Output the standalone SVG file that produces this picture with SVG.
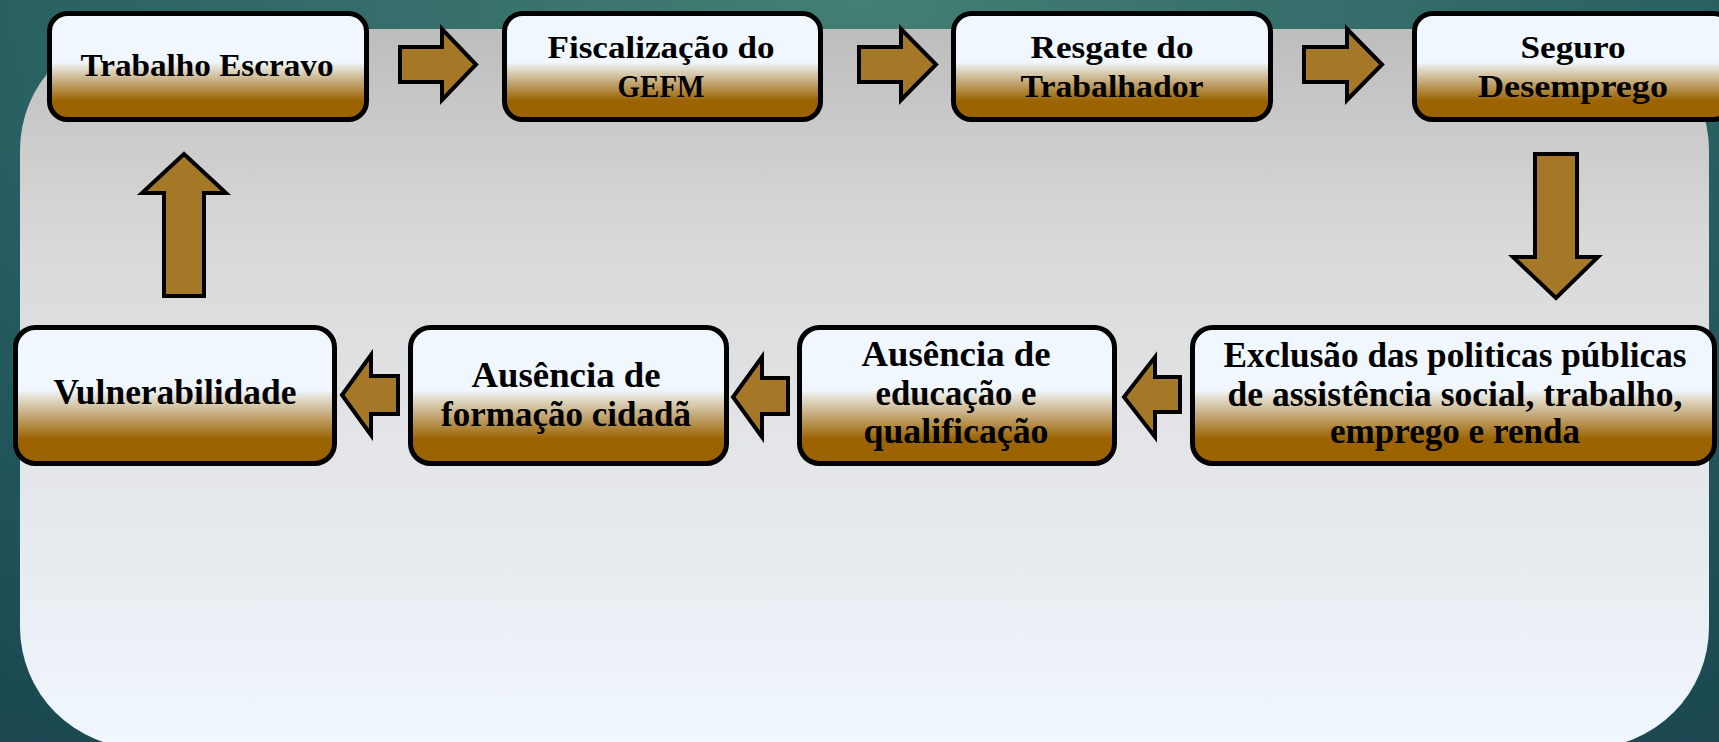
<svg xmlns="http://www.w3.org/2000/svg" width="1719" height="742" viewBox="0 0 1719 742">
<defs>
<radialGradient id="bg" cx="0.5" cy="0" r="1" gradientTransform="translate(0.5 0) scale(1 1.2) translate(-0.5 0)">
<stop offset="0" stop-color="#437f74"/>
<stop offset="0.6" stop-color="#245a5e"/>
<stop offset="1" stop-color="#1a4650"/>
</radialGradient>
<linearGradient id="panel" x1="0" y1="0" x2="0" y2="1">
<stop offset="0" stop-color="#bdbdbd"/>
<stop offset="0.3" stop-color="#d9d9d9"/>
<stop offset="0.65" stop-color="#e5e8ec"/>
<stop offset="1" stop-color="#f0f7fe"/>
</linearGradient>
<linearGradient id="boxfill" x1="0" y1="0" x2="0" y2="1">
<stop offset="0" stop-color="#f0f7ff"/>
<stop offset="0.46" stop-color="#f0f7ff"/>
<stop offset="0.52" stop-color="#e2ddcd"/>
<stop offset="0.64" stop-color="#c6ab7c"/>
<stop offset="0.82" stop-color="#9b6401"/>
<stop offset="1" stop-color="#9a6300"/>
</linearGradient>
<style>
.box{fill:url(#boxfill);stroke:#000;stroke-width:5}
.arr{fill:#a47826;stroke:#000;stroke-width:4;stroke-linejoin:miter}
.t{font-family:"Liberation Serif","DejaVu Serif",serif;font-weight:bold;fill:#000;text-anchor:middle}
.top{font-size:31px}
.bot{font-size:35px}
</style>
</defs>
<rect x="0" y="0" width="1719" height="742" fill="url(#bg)"/>
<rect x="20" y="29" width="1689" height="719" rx="121" ry="121" fill="url(#panel)"/>

<g id="connectors">
<polygon class="arr" points="400,47 442,47 442,29 476,64.5 442,100 442,82 400,82"/>
<polygon class="arr" points="859,47 901,47 901,29 936,64.5 901,100 901,82 859,82"/>
<polygon class="arr" points="1304,47 1347,47 1347,29 1382,64.5 1347,100 1347,82 1304,82"/>
<polygon class="arr" points="1535,154 1577,154 1577,257 1598,257 1556,298 1513,257 1535,257"/>
<polygon class="arr" points="398,376 371,376 371,355 342,395 371,435 371,414 398,414"/>
<polygon class="arr" points="788,378 762,378 762,357 733,397 762,437 762,414 788,414"/>
<polygon class="arr" points="1180,377 1155,377 1155,357 1124,397 1155,437 1155,412 1180,412"/>
<polygon class="arr" points="164,296 164,193 142,193 184,154 226,193 204,193 204,296"/>
</g>

<g id="n1">
<rect class="box" x="49.5" y="13.5" width="317" height="106" rx="18"/>
<text class="t top" x="207" y="76" textLength="253" lengthAdjust="spacingAndGlyphs">Trabalho Escravo</text>
</g>
<g id="n2">
<rect class="box" x="504.5" y="13.5" width="316" height="106" rx="18"/>
<text class="t top" x="661" y="58" textLength="227" lengthAdjust="spacingAndGlyphs">Fiscalização do</text>
<text class="t top" x="661" y="97" textLength="87" lengthAdjust="spacingAndGlyphs">GEFM</text>
</g>
<g id="n3">
<rect class="box" x="953.5" y="13.5" width="317" height="106" rx="18"/>
<text class="t top" x="1112" y="58" textLength="163" lengthAdjust="spacingAndGlyphs">Resgate do</text>
<text class="t top" x="1112" y="97" textLength="183" lengthAdjust="spacingAndGlyphs">Trabalhador</text>
</g>
<g id="n4">
<rect class="box" x="1414.5" y="13.5" width="317" height="106" rx="18"/>
<text class="t top" x="1573" y="58" textLength="105" lengthAdjust="spacingAndGlyphs">Seguro</text>
<text class="t top" x="1573" y="97" textLength="190" lengthAdjust="spacingAndGlyphs">Desemprego</text>
</g>
<g id="n5">
<rect class="box" x="1192.5" y="327.5" width="522" height="136" rx="20"/>
<text class="t bot" x="1455" y="367" textLength="463" lengthAdjust="spacingAndGlyphs">Exclusão das politicas públicas</text>
<text class="t bot" x="1455" y="406" textLength="455" lengthAdjust="spacingAndGlyphs">de assistência social, trabalho,</text>
<text class="t bot" x="1455" y="443" textLength="250" lengthAdjust="spacingAndGlyphs">emprego e renda</text>
</g>
<g id="n6">
<rect class="box" x="799.5" y="327.5" width="315" height="136" rx="20"/>
<text class="t bot" x="956" y="366" textLength="189" lengthAdjust="spacingAndGlyphs">Ausência  de</text>
<text class="t bot" x="956" y="405" textLength="161" lengthAdjust="spacingAndGlyphs">educação e</text>
<text class="t bot" x="956" y="443" textLength="185" lengthAdjust="spacingAndGlyphs">qualificação</text>
</g>
<g id="n7">
<rect class="box" x="410.5" y="327.5" width="316" height="136" rx="20"/>
<text class="t bot" x="566" y="387" textLength="189" lengthAdjust="spacingAndGlyphs">Ausência  de</text>
<text class="t bot" x="566" y="426" textLength="250" lengthAdjust="spacingAndGlyphs">formação cidadã</text>
</g>
<g id="n8">
<rect class="box" x="15.5" y="327.5" width="319" height="136" rx="20"/>
<text class="t bot" x="175" y="404" textLength="243" lengthAdjust="spacingAndGlyphs">Vulnerabilidade</text>
</g>
</svg>
